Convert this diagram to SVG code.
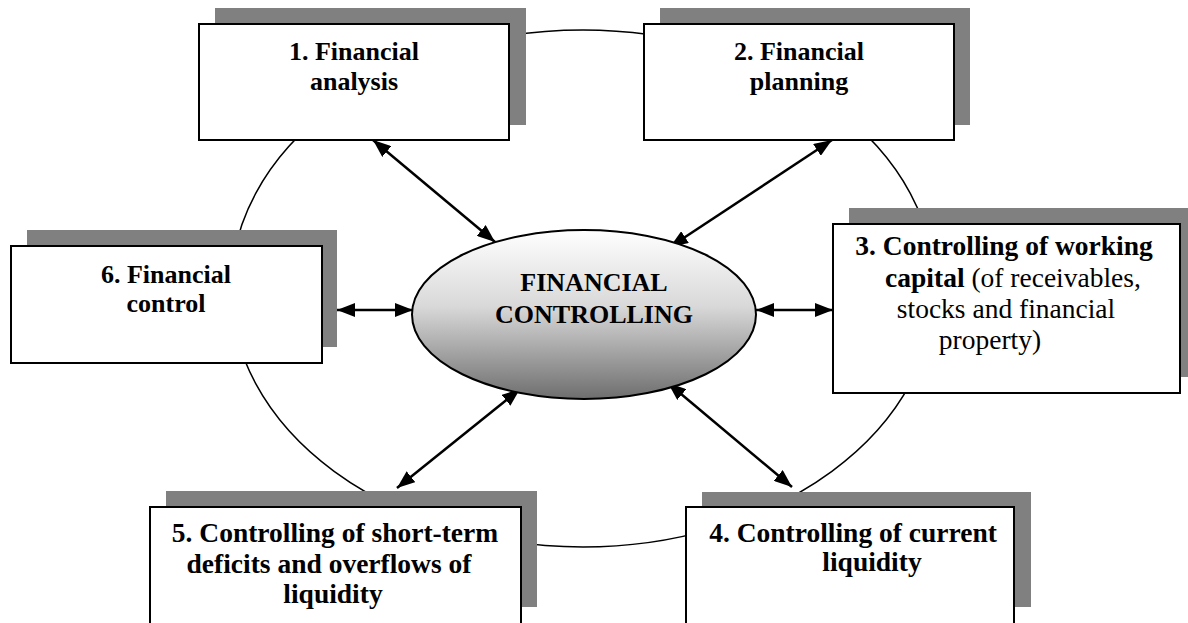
<svg xmlns="http://www.w3.org/2000/svg" width="1188" height="623" viewBox="0 0 1188 623">
<defs>
<linearGradient id="g" x1="0" y1="0" x2="0" y2="1">
<stop offset="0" stop-color="#ffffff"/>
<stop offset="0.45" stop-color="#d9d9d9"/>
<stop offset="1" stop-color="#6e6e6e"/>
</linearGradient>
<marker id="ah" viewBox="0 0 18 14" markerWidth="18" markerHeight="14" refX="18" refY="7" orient="auto-start-reverse" markerUnits="userSpaceOnUse">
<path d="M0,0 L18,7 L0,14 z" fill="#000"/>
</marker>
<style>
.sh{fill:#808080;stroke:none}
.bx{fill:#fff;stroke:#000;stroke-width:2}
.t{font-family:"Liberation Serif","Times New Roman",serif;font-size:26px;fill:#000;text-anchor:middle}
.l{font-size:27.5px}
.b{font-weight:bold}
.c{fill:none;stroke:#000;stroke-width:2.5;marker-start:url(#ah);marker-end:url(#ah)}
</style>
</defs>
<rect width="1188" height="623" fill="#fff"/>
<ellipse id="ring" cx="583" cy="288.5" rx="352" ry="258.5" fill="none" stroke="#000" stroke-width="1.5"/>
<g id="connectors">
<line class="c" x1="373" y1="140" x2="495" y2="242"/>
<line class="c" x1="832" y1="140" x2="670" y2="247"/>
<line class="c" x1="337" y1="310" x2="413" y2="310"/>
<line class="c" x1="756" y1="310" x2="833" y2="310"/>
<line class="c" x1="520" y1="389" x2="397" y2="488"/>
<line class="c" x1="668" y1="383" x2="792" y2="487"/>
</g>
<g id="center">
<ellipse cx="584" cy="314.5" rx="172" ry="84.5" fill="url(#g)" stroke="#000" stroke-width="2"/>
<text class="t b" x="594" y="291">FINANCIAL</text>
<text class="t b" x="594" y="323">CONTROLLING</text>
</g>
<g id="n1">
<rect class="sh" x="215" y="8" width="311" height="117"/>
<rect class="bx" x="199" y="24" width="310" height="116"/>
<text class="t b" x="354" y="60">1. Financial</text>
<text class="t b" x="354" y="90">analysis</text>
</g>
<g id="n2">
<rect class="sh" x="660" y="8" width="310" height="117"/>
<rect class="bx" x="644" y="24" width="310" height="116"/>
<text class="t b" x="799" y="60">2. Financial</text>
<text class="t b" x="799" y="90">planning</text>
</g>
<g id="n6">
<rect class="sh" x="27" y="230" width="310" height="117"/>
<rect class="bx" x="11" y="246" width="311" height="117"/>
<text class="t b" x="166" y="283">6. Financial</text>
<text class="t b" x="166" y="312">control</text>
</g>
<g id="n3">
<rect class="sh" x="849" y="208" width="347" height="169"/>
<rect class="bx" x="833" y="224" width="347" height="169"/>
<text class="t l" x="1004" y="255"><tspan class="b">3. Controlling of working</tspan></text>
<text class="t l" x="1013" y="287"><tspan class="b">capital</tspan> (of receivables,</text>
<text class="t l" x="1006" y="318">stocks and financial</text>
<text class="t l" x="990" y="349">property)</text>
</g>
<g id="n5">
<rect class="sh" x="166" y="491" width="371" height="116"/>
<rect class="bx" x="150" y="507" width="371" height="130"/>
<text class="t l b" x="335" y="542">5. Controlling of short-term</text>
<text class="t l b" x="329" y="573">deficits and overflows of</text>
<text class="t l b" x="333" y="603">liquidity</text>
</g>
<g id="n4">
<rect class="sh" x="702" y="492" width="329" height="115"/>
<rect class="bx" x="686" y="507" width="328" height="130"/>
<text class="t l b" x="853" y="542">4. Controlling of current</text>
<text class="t l b" x="872" y="571">liquidity</text>
</g>
</svg>
